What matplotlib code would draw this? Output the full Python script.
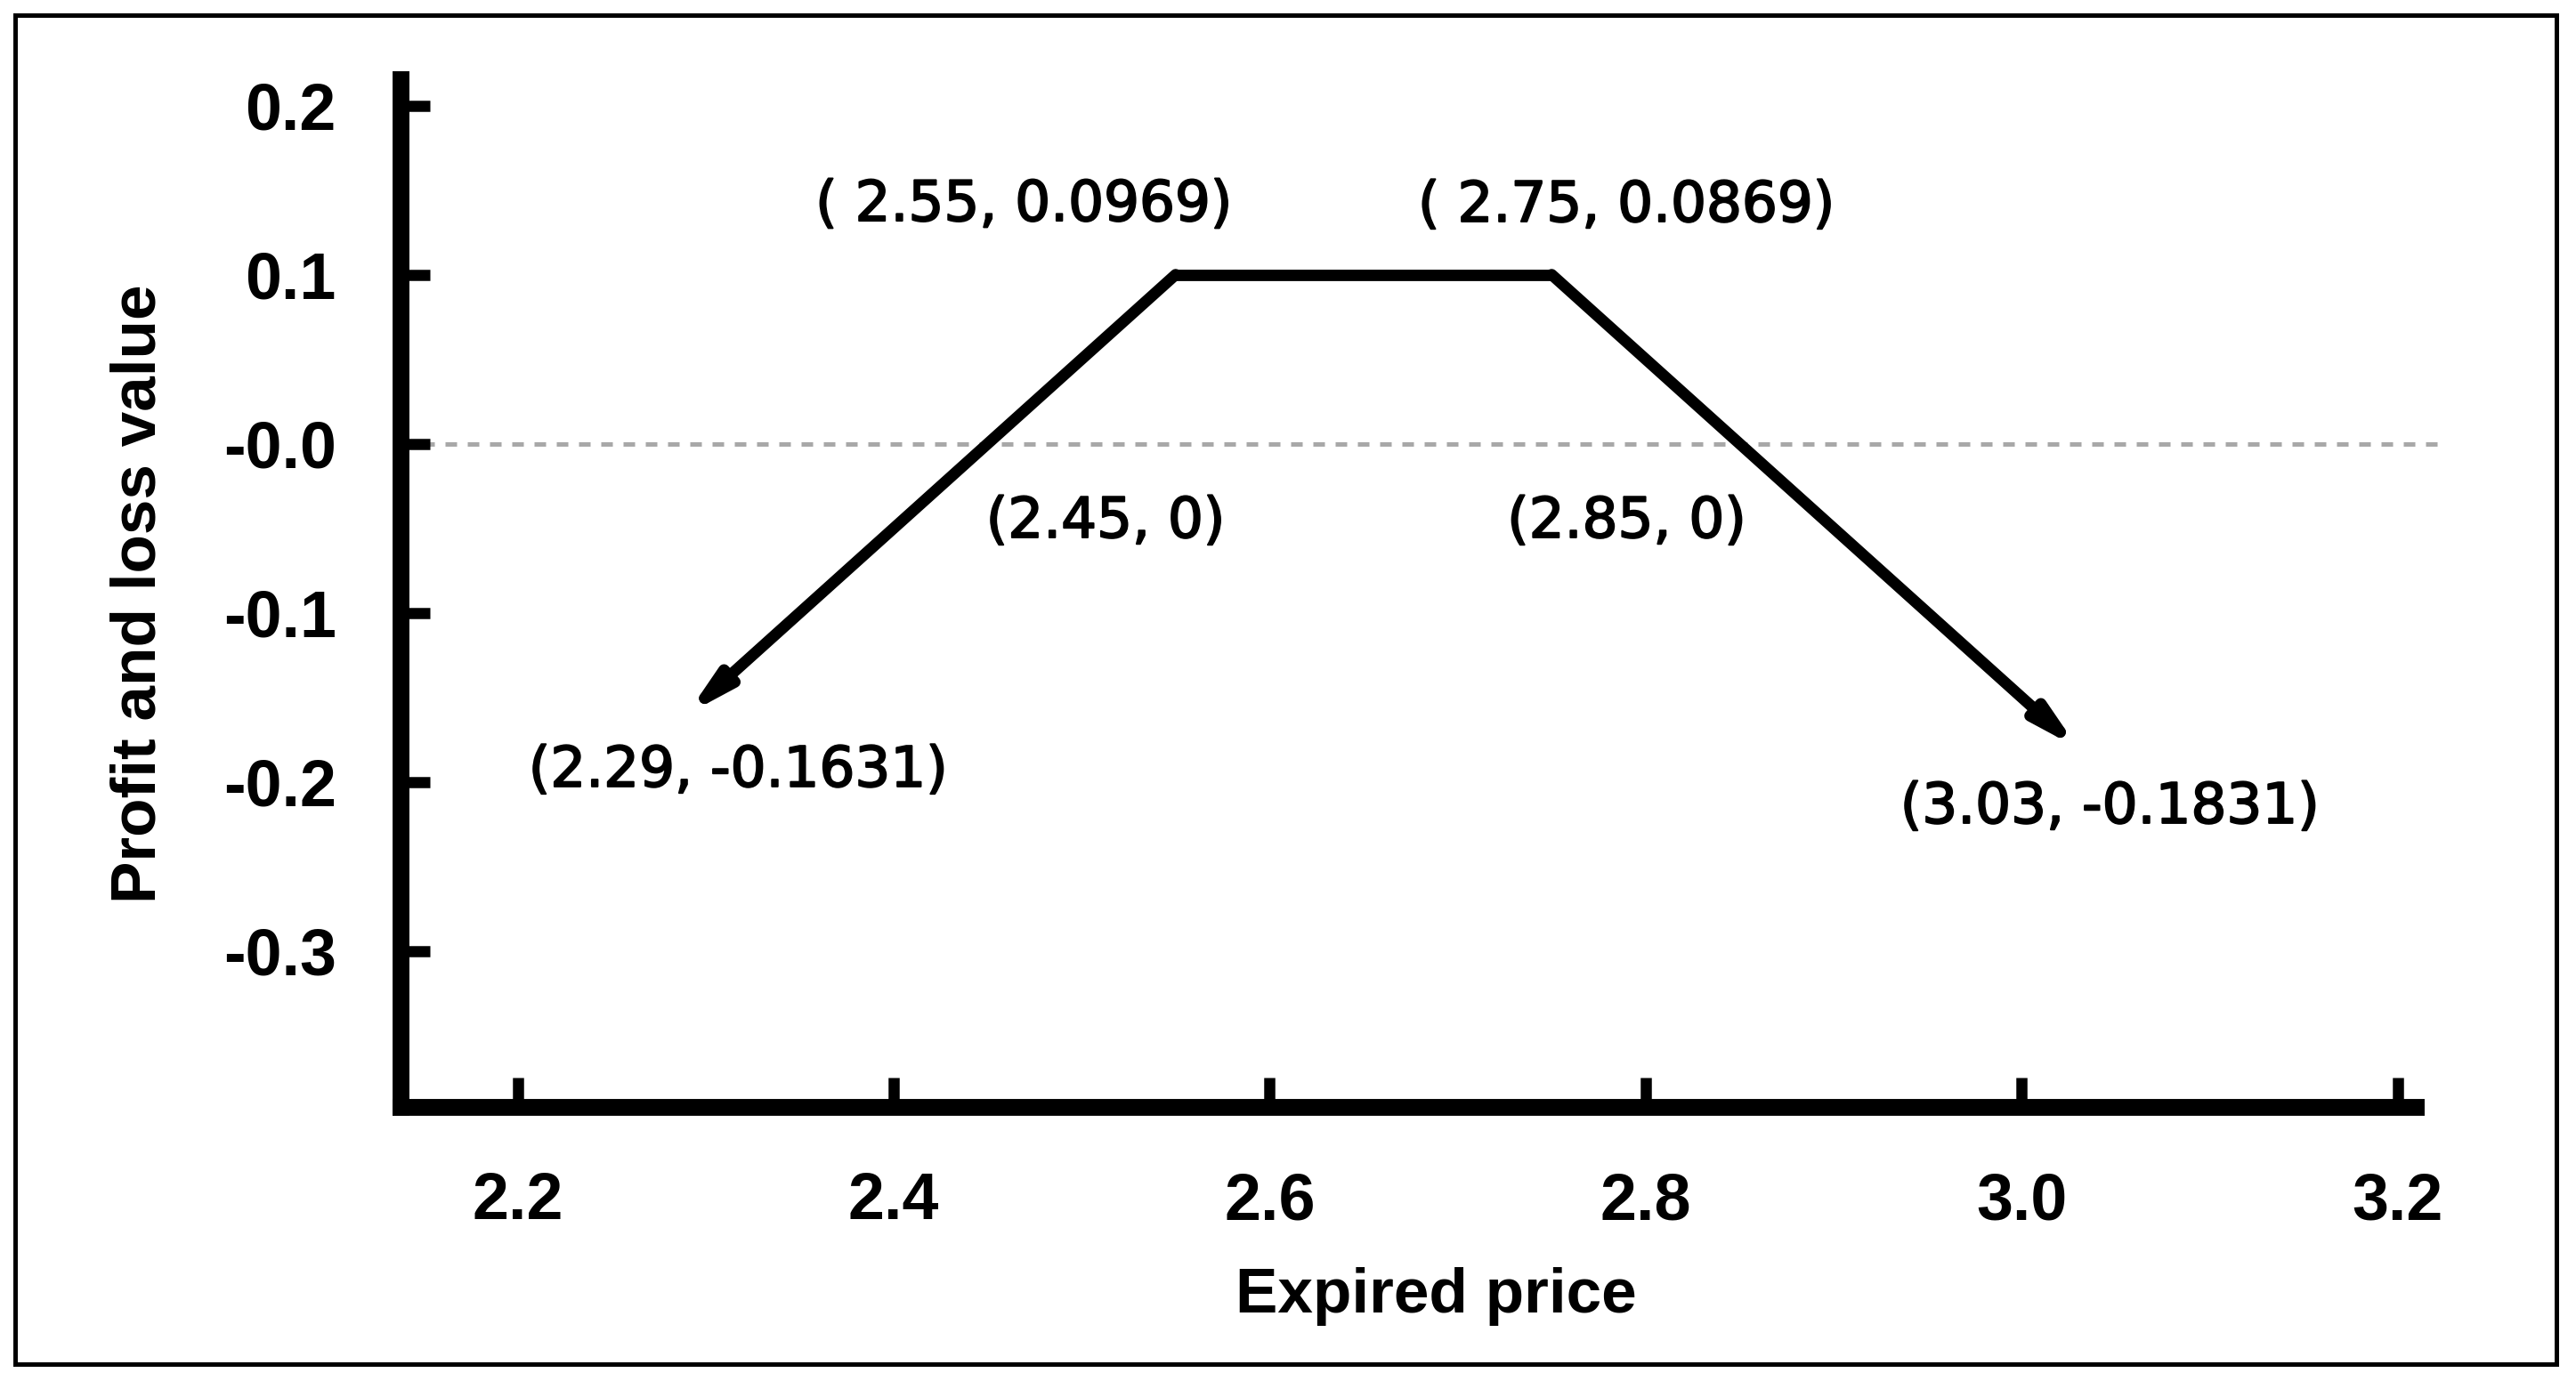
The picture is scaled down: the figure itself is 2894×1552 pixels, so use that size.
import matplotlib
matplotlib.use("Agg")
import matplotlib.pyplot as plt
import matplotlib.patheffects as pe
from matplotlib.patches import Rectangle

# payoff of the strategy at expiry
expiry_price = [2.29, 2.55, 2.75, 3.03]
pnl_value = [-0.16, 0.10, 0.10, -0.18]
point_labels = ["(2.29, -0.1631)", "( 2.55, 0.0969)", "( 2.75, 0.0869)", "(3.03, -0.1831)"]

# break-even points
breakeven_x = [2.45, 2.85]
breakeven_labels = ["(2.45, 0)", "(2.85, 0)"]

x_ticks = [2.2, 2.4, 2.6, 2.8, 3.0, 3.2]
x_tick_labels = ["2.2", "2.4", "2.6", "2.8", "3.0", "3.2"]
y_ticks = [0.2, 0.1, 0.0, -0.1, -0.2, -0.3]
y_tick_labels = ["0.2", "0.1", "-0.0", "-0.1", "-0.2", "-0.3"]

DPI = 200
fig = plt.figure(figsize=(2894 / DPI, 1552 / DPI), dpi=DPI)
ax = fig.add_axes([450 / 2894, 1 - 1244 / 1552, 2264.5 / 2894, (1244 - 89.5) / 1552])

bold = dict(family=["Liberation Sans", "DejaVu Sans"], weight="bold", size=26.5)
note = dict(family="DejaVu Sans", size=22.6,
            path_effects=[pe.withStroke(linewidth=0.7, foreground="black")])

# dashed zero line
ax.axhline(0, xmin=0, xmax=1.012, color="#a8a8a8", lw=1.8, dashes=(2.6, 2.4),
           clip_on=False, zorder=1)

# flat top of the payoff
ax.plot(expiry_price[1:3], pnl_value[1:3], color="black", lw=4.6,
        solid_capstyle="round", zorder=3)

# sloping legs with arrow heads at the ends
arrow = dict(arrowstyle="-|>,head_length=0.45,head_width=0.11", color="black",
             lw=4.6, shrinkA=0, shrinkB=0, mutation_scale=30, capstyle="round")
ax.annotate("", xy=(expiry_price[0], pnl_value[0]),
            xytext=(expiry_price[1], pnl_value[1]), arrowprops=arrow, zorder=3)
ax.annotate("", xy=(expiry_price[3], pnl_value[3]),
            xytext=(expiry_price[2], pnl_value[2]), arrowprops=arrow, zorder=3)

# point labels
point_offsets = [(20.7, -23.1), (-61.4, 27.9), (30.2, 27.6), (12.8, -24.2)]
for x, y, txt, off in zip(expiry_price, pnl_value, point_labels, point_offsets):
    ax.annotate(txt, xy=(x, y), xytext=off, textcoords="offset points",
                ha="center", va="center", **note)

zero_offsets = [(47.7, -31.8), (-45.7, -31.8)]
for x, txt, off in zip(breakeven_x, breakeven_labels, zero_offsets):
    ax.annotate(txt, xy=(x, 0), xytext=off, textcoords="offset points",
                ha="center", va="center", **note)

ax.set_xlim(2.1377, 3.2099)
ax.set_ylim(-0.3922, 0.2153)

ax.set_xticks(x_ticks)
ax.set_xticklabels(x_tick_labels, fontdict=bold)
ax.set_yticks(y_ticks)
ax.set_yticklabels(y_tick_labels, fontdict=bold)
ax.tick_params(direction="in", length=12, width=4.5, pad=26, color="black")

for side in ["top", "right"]:
    ax.spines[side].set_visible(False)
for side in ["left", "bottom"]:
    ax.spines[side].set_linewidth(6.8)
    ax.spines[side].set_capstyle("projecting")

fig.text(1613 / 2894, 1 - 1475 / 1552, "Expired price", ha="center", va="baseline",
         family=["Liberation Sans", "DejaVu Sans"], weight="bold", size=25.6)
fig.text(175 / 2894, 1 - 667 / 1552, "Profit and loss value", rotation=90,
         rotation_mode="anchor", ha="center", va="baseline",
         family=["Liberation Sans", "DejaVu Sans"], weight="bold", size=25.6)

# outer frame
fig.patches.append(Rectangle((17 / 2894, 1 - 1533 / 1552), (2872 - 17) / 2894,
                             (1533 - 17) / 1552, transform=fig.transFigure,
                             fill=False, edgecolor="black", lw=1.8))

fig.savefig("out.png", dpi=DPI)
